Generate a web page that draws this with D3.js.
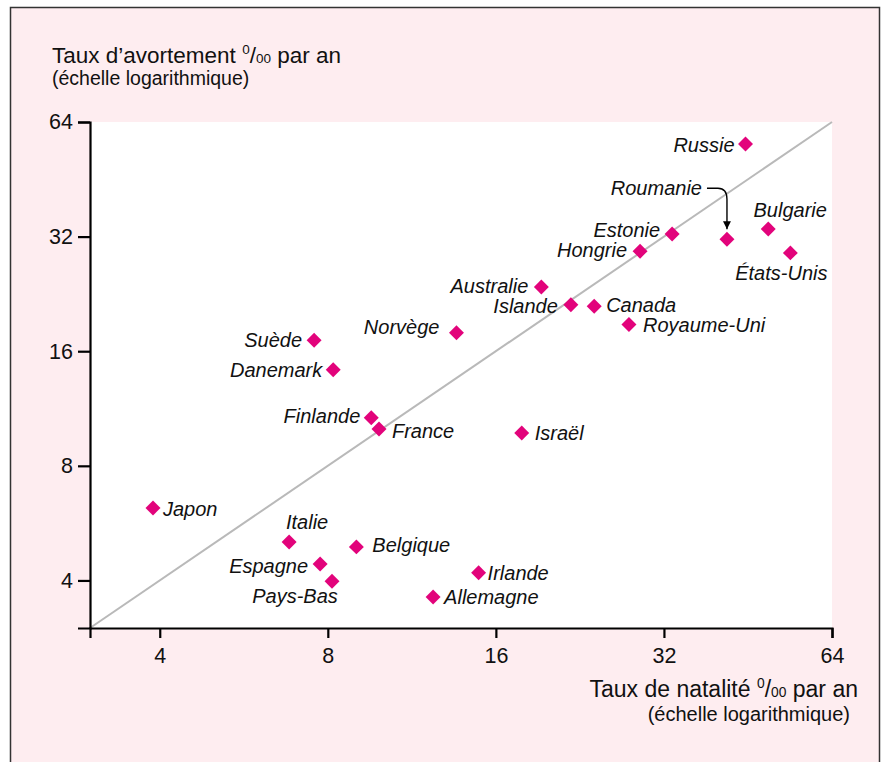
<!DOCTYPE html>
<html>
<head>
<meta charset="utf-8">
<script src="https://cdn.jsdelivr.net/npm/d3@7"></script>
<style>
  body { margin: 0; background: #fff; }
  svg { display: block; font-family: "Liberation Sans", Arial, Helvetica, sans-serif; }
</style>
</head>
<body>
<div id="main"></div>
<script>
const ctx = {
    w: 890,
    h: 762,
    left: 90,
    right: 832,
    top: 122,
    bottom: 628,
    bg: "#feedf0",
    dotColor: "#e2037b"
};

// pays, taux de natalité (x) et taux d'avortement (y), pour mille par an
const countries = ["Russie", "Roumanie", "Bulgarie", "États-Unis", "Estonie", "Hongrie",
    "Australie", "Islande", "Canada", "Royaume-Uni", "Norvège", "Suède", "Danemark",
    "Finlande", "France", "Israël", "Japon", "Italie", "Belgique", "Espagne",
    "Pays-Bas", "Irlande", "Allemagne"];
const birthRate = [44.8, 41.5, 49.2, 53.9, 33.1, 29.0,
    19.3, 21.8, 24.0, 27.7, 13.6, 7.56, 8.18,
    9.57, 9.88, 17.8, 3.89, 6.82, 9.0, 7.75,
    8.14, 14.9, 12.35];
const abortionRate = [56.0, 31.5, 33.5, 29.0, 32.5, 29.3,
    23.6, 21.2, 21.0, 18.8, 17.9, 17.1, 14.3,
    10.7, 10.0, 9.76, 6.2, 5.05, 4.9, 4.42,
    3.98, 4.19, 3.62];
const tickValues = [4, 8, 16, 32, 64];
const domainMin = 3, domainMax = 64;

// label placement: offset from the marker, text-anchor
const labelPos = {
    "Russie":      [-11, 1, "end"],
    "Roumanie":    [-25, -51, "end"],
    "Bulgarie":    [22, -19, "middle"],
    "États-Unis":  [-9, 20, "middle"],
    "Estonie":     [-12, -4, "end"],
    "Hongrie":     [-13, -1, "end"],
    "Australie":   [-13, -1, "end"],
    "Islande":     [-13, 1, "end"],
    "Canada":      [12, -1, "start"],
    "Royaume-Uni": [14, 0, "start"],
    "Norvège":     [-17, -6, "end"],
    "Suède":       [-12, 0, "end"],
    "Danemark":    [-11, 0, "end"],
    "Finlande":    [-11, -2, "end"],
    "France":      [13, 2, "start"],
    "Israël":      [13, 0, "start"],
    "Japon":       [10, 1, "start"],
    "Italie":      [18, -20, "middle"],
    "Belgique":    [16, -2, "start"],
    "Espagne":     [-12, 2, "end"],
    "Pays-Bas":    [-37, 15, "middle"],
    "Irlande":     [9, 0, "start"],
    "Allemagne":   [11, 0, "start"]
};

const data = countries.map((c, i) => ({name: c, x: birthRate[i], y: abortionRate[i]}));

const x = d3.scaleLog().base(2).domain([domainMin, domainMax]).range([ctx.left, ctx.right]);
const y = d3.scaleLog().base(2).domain([domainMin, domainMax]).range([ctx.bottom, ctx.top]);

function addPermille(textSel, size){
    // 0/00 with raised 0 and small 00
    textSel.append("tspan").text("\u00a0");
    textSel.append("tspan").attr("font-size", size * 0.6).attr("dy", -size * 0.38).text("0");
    textSel.append("tspan").attr("dy", size * 0.38).text("/");
    textSel.append("tspan").attr("font-size", size * 0.6).text("00");
}

function createViz(){
    let svgEl = d3.select("#main").append("svg")
        .attr("width", ctx.w)
        .attr("height", ctx.h);

    svgEl.append("rect")
        .attr("x", 10.5).attr("y", 7.5)
        .attr("width", 869).attr("height", 770)
        .attr("fill", ctx.bg)
        .attr("stroke", "#333").attr("stroke-width", 1.5);

    svgEl.append("rect")
        .attr("x", ctx.left).attr("y", ctx.top)
        .attr("width", ctx.right - ctx.left)
        .attr("height", ctx.bottom - ctx.top)
        .attr("fill", "#fff");

    // diagonale y = x
    svgEl.append("line")
        .attr("x1", x(domainMin)).attr("y1", y(domainMin))
        .attr("x2", x(domainMax)).attr("y2", y(domainMax))
        .attr("stroke", "#b9b9b9").attr("stroke-width", 2);

    // axes
    let xAxis = svgEl.append("g")
        .attr("transform", `translate(0,${ctx.bottom})`)
        .call(d3.axisBottom(x).tickValues(tickValues).tickFormat(d3.format("d"))
              .tickSizeOuter(0).tickSize(10).tickPadding(10));
    let yAxis = svgEl.append("g")
        .attr("transform", `translate(${ctx.left},0)`)
        .call(d3.axisLeft(y).tickValues(tickValues).tickFormat(d3.format("d"))
              .tickSizeOuter(0).tickSize(12).tickPadding(5));
    [xAxis, yAxis].forEach(a => {
        a.select(".domain").attr("stroke", "#000").attr("stroke-width", 2.2);
        a.selectAll(".tick line").attr("stroke", "#000").attr("stroke-width", 2.2);
        a.selectAll(".tick text").attr("font-size", 21.5).attr("fill", "#111")
            .attr("font-family", "Liberation Sans, Arial, sans-serif");
    });

    // axis titles
    let yTitle = svgEl.append("text")
        .attr("x", 52).attr("y", 63)
        .attr("font-size", 22.5).attr("fill", "#111")
        .text("Taux d\u2019avortement");
    addPermille(yTitle, 22.5);
    yTitle.append("tspan").text(" par an");
    svgEl.append("text")
        .attr("x", 52).attr("y", 85)
        .attr("font-size", 19.5).attr("fill", "#111")
        .text("(échelle logarithmique)");

    let xTitle = svgEl.append("text")
        .attr("x", 858).attr("y", 697)
        .attr("text-anchor", "end")
        .attr("font-size", 23).attr("fill", "#111")
        .text("Taux de natalité");
    addPermille(xTitle, 23);
    xTitle.append("tspan").text(" par an");
    svgEl.append("text")
        .attr("x", 850).attr("y", 721)
        .attr("text-anchor", "end")
        .attr("font-size", 20).attr("fill", "#111")
        .text("(échelle logarithmique)");

    // markers
    let pts = svgEl.append("g").attr("id", "points");
    pts.selectAll("path")
        .data(data)
        .enter()
        .append("path")
        .attr("d", d3.symbol(d3.symbolSquare).size(112))
        .attr("transform", d => `translate(${x(d.x)},${y(d.y)}) rotate(45)`)
        .attr("fill", ctx.dotColor);

    // labels
    svgEl.append("g").attr("id", "labels")
        .selectAll("text")
        .data(data)
        .enter()
        .append("text")
        .attr("x", d => x(d.x) + labelPos[d.name][0])
        .attr("y", d => y(d.y) + labelPos[d.name][1])
        .attr("dy", "0.35em")
        .attr("text-anchor", d => labelPos[d.name][2])
        .attr("font-size", 20)
        .attr("font-style", "italic")
        .attr("fill", "#111")
        .text(d => d.name);

    // arrow for Roumanie
    svgEl.append("defs").append("marker")
        .attr("id", "head")
        .attr("viewBox", "0 0 10 10")
        .attr("refX", 10).attr("refY", 5)
        .attr("markerWidth", 8).attr("markerHeight", 8)
        .attr("markerUnits", "userSpaceOnUse")
        .attr("orient", "auto")
        .append("path").attr("d", "M0,0 L10,5 L0,10 Z").attr("fill", "#000");
    let rou = data.find(d => d.name === "Roumanie");
    let rx = x(rou.x), ry = y(rou.y);
    svgEl.append("path")
        .attr("d", `M${rx - 20},${ry - 51} H${rx - 9} Q${rx},${ry - 51} ${rx},${ry - 40} V${ry - 10}`)
        .attr("fill", "none")
        .attr("stroke", "#000").attr("stroke-width", 1.4)
        .attr("marker-end", "url(#head)");
}

createViz();
</script>
</body>
</html>
